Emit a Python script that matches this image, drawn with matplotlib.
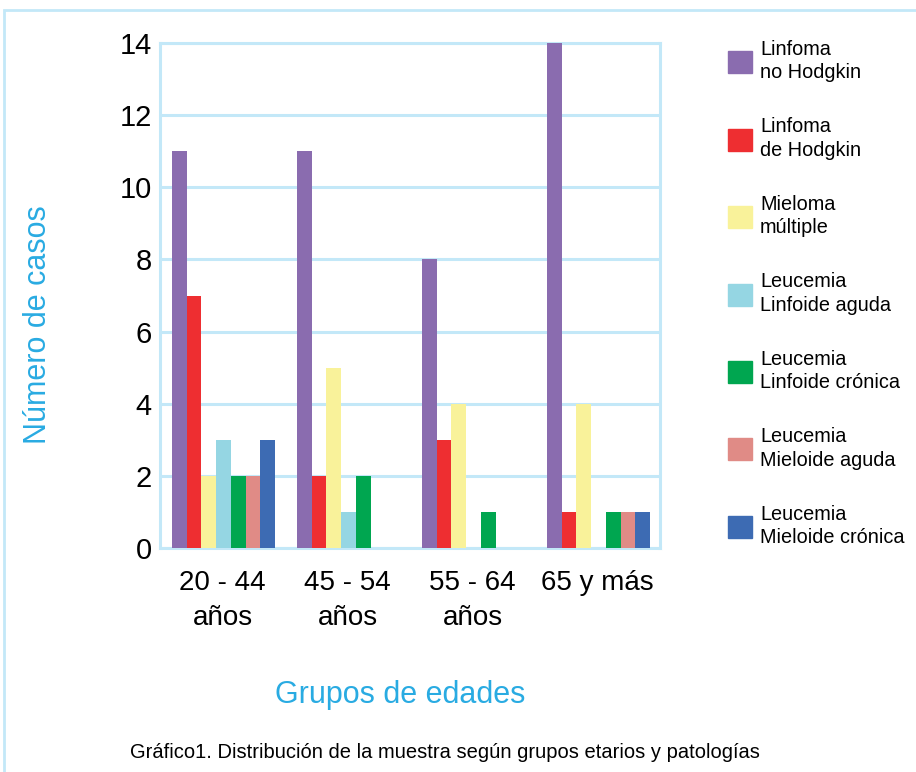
import matplotlib.pyplot as plt
import matplotlib.patches as mpatches
import numpy as np

plt.rcParams['font.family'] = ['Liberation Sans Narrow', 'Liberation Sans', 'DejaVu Sans']

grupos = ["20 - 44\naños", "45 - 54\naños", "55 - 64\naños", "65 y más"]
patologias = ["Linfoma\nno Hodgkin", "Linfoma\nde Hodgkin", "Mieloma\nmúltiple",
              "Leucemia\nLinfoide aguda", "Leucemia\nLinfoide crónica",
              "Leucemia\nMieloide aguda", "Leucemia\nMieloide crónica"]
linfoma_no_hodgkin = [11, 11, 8, 14]
linfoma_hodgkin = [7, 2, 3, 1]
mieloma = [2, 5, 4, 4]
leucemia_la = [3, 1, 0, 0]
leucemia_lc = [2, 2, 1, 1]
leucemia_ma = [2, 0, 0, 1]
leucemia_mc = [3, 0, 0, 1]
colores = ["#8a6caf", "#ee2e31", "#f9f29a", "#95d6e3", "#00a650", "#e08b86", "#3d6bb3"]

series = [linfoma_no_hodgkin, linfoma_hodgkin, mieloma, leucemia_la,
          leucemia_lc, leucemia_ma, leucemia_mc]

borde = "#c3e8f8"
cian = "#29abe2"


def main():
    fig = plt.figure(figsize=(9.16, 7.72), dpi=100)
    ax = fig.add_axes([160 / 916, 1 - 548 / 772, 500 / 916, 505 / 772])

    x = np.arange(len(grupos))
    w = 0.118
    for i, vals in enumerate(series):
        ax.bar(x - 0.5 + 0.095 + w * (i + 0.5), vals, w, color=colores[i],
               label=patologias[i], zorder=3)

    ax.set_xlim(-0.5, 3.5)
    ax.set_ylim(0, 14)
    ax.set_yticks(range(0, 15, 2))
    ax.set_xticks(x)
    ax.set_xticklabels(grupos, fontsize=20, linespacing=1.45)
    ax.tick_params(axis='y', labelsize=21, length=0, pad=6)
    ax.tick_params(axis='x', length=0, pad=16)
    ax.grid(axis='y', color=borde, lw=2.2, zorder=1)
    for s in ax.spines.values():
        s.set_color(borde)
        s.set_linewidth(2.2)

    fig.text(38 / 916, 1 - 325 / 772, "Número de casos", rotation=90, color=cian,
             fontsize=22, ha='center', va='center', family='Liberation Sans')
    fig.text(400 / 916, 1 - 695 / 772, "Grupos de edades", color=cian,
             fontsize=22, ha='center', va='center', family='Liberation Sans')
    fig.text(445 / 916, 1 - 752 / 772,
             "Gráfico1. Distribución de la muestra según grupos etarios y patologías",
             fontsize=14.5, ha='center', va='center')

    # marco exterior
    fig.add_artist(mpatches.Rectangle((4 / 916, -0.01), 1.0, 1 - 10 / 772 + 0.01,
                                      transform=fig.transFigure, fill=False,
                                      edgecolor=borde, lw=2))

    # leyenda manual
    for i, lab in enumerate(patologias):
        yc = 1 - (62 + 77.5 * i) / 772
        fig.add_artist(mpatches.Rectangle((728 / 916, yc - 11 / 772), 24 / 916, 22 / 772,
                                          transform=fig.transFigure, color=colores[i]))
        fig.text(760 / 916, yc + 1 / 772, lab, fontsize=14.3, va='center', ha='left',
                 linespacing=1.3)

    fig.savefig("out.png", dpi=100)


if __name__ == "__main__":
    main()
